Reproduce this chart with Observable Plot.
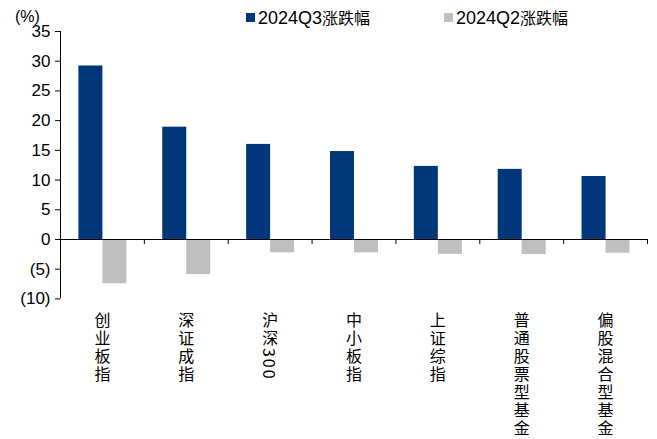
<!DOCTYPE html>
<html>
<head>
<meta charset="utf-8">
<script src="https://cdn.jsdelivr.net/npm/d3@7"></script>
<script src="https://cdn.jsdelivr.net/npm/@observablehq/plot@0.6"></script>
<style>
  body { margin: 0; background: #fff; }
  #wrap { position: relative; width: 657px; height: 439px; font-family: "Liberation Sans", Arial, "Noto Sans CJK SC", sans-serif; }
  .lg { position: absolute; top: 7px; font-size: 18px; color: #000; white-space: nowrap; line-height: 20px; }
  .lg .sw { display: inline-block; width: 9px; height: 9px; margin-right: 3px; vertical-align: 2px; }
  .lg .cj { font-family: "Noto Sans CJK SC", sans-serif; font-size: 16px; }
  #unit { position: absolute; left: 15px; top: 8px; font-size: 16px; }
</style>
</head>
<body>
<div id="wrap"></div>
<script>
const categories = ["创业板指", "深证成指", "沪深300", "中小板指", "上证综指", "普通股票型基金", "偏股混合型基金"];
const q3 = [29.2, 18.9, 16.0, 14.8, 12.3, 11.8, 10.6];
const q2 = [-7.45, -5.9, -2.25, -2.25, -2.5, -2.55, -2.3];
const seriesNames = ["2024Q3涨跌幅", "2024Q2涨跌幅"];
const colors = ["#00377A", "#BFBFBF"];
const yTicks = [-10, -5, 0, 5, 10, 15, 20, 25, 30, 35];

const W = 657, H = 439, mL = 60, mR = 10, mT = 31, mB = 140.6;
const bw = (W - mL - mR) / categories.length;

const rows = categories.map((c, i) => ({cat: c, q3: q3[i], q2: q2[i]}));

const chart = Plot.plot({
  width: W, height: H,
  marginLeft: mL, marginRight: mR, marginTop: mT, marginBottom: mB,
  style: {fontFamily: "'Liberation Sans', Arial, sans-serif", background: "#fff", color: "#000"},
  x: {domain: categories, padding: 0, round: false},
  y: {domain: [-10, 35]},
  marks: [
    Plot.barY(rows, {x: "cat", y: "q3", fill: colors[0], insetLeft: 18.4, insetRight: bw - 18.4 - 24}),
    Plot.barY(rows, {x: "cat", y: "q2", fill: colors[1], insetLeft: 42.4, insetRight: bw - 42.4 - 24}),
    Plot.ruleY([0], {stroke: "#000", strokeWidth: 1.2}),
    Plot.ruleX([categories[0]], {x: d => d, y1: -10, y2: 35, dx: -bw / 2, stroke: "#000"}),
    Plot.ruleX(categories, {x: d => d, y1: 0, y2: -0.85, dx: -bw / 2, stroke: "#000"}),
    Plot.ruleX([categories[categories.length - 1]], {x: d => d, y1: 0, y2: -0.85, dx: bw / 2, stroke: "#000"}),
    Plot.axisY({ticks: yTicks, tickFormat: d => d < 0 ? `(${-d})` : `${d}`, tickSize: 5, tickPadding: 5, fontSize: 17, label: null, stroke: "#000"}),
    Plot.axisX({tickSize: 0, tickPadding: 13, fontSize: 16, label: null, fontFamily: "'Noto Sans CJK SC', sans-serif"})
  ]
});

const wrap = document.getElementById("wrap");
wrap.appendChild(chart);

// vertical tick labels
d3.select(chart).selectAll('g[aria-label="x-axis tick label"] text')
  .attr("y", null).attr("dy", null)
  .attr("text-anchor", "start")
  .style("writing-mode", "vertical-rl")
  .style("letter-spacing", "2px");

// unit label
const unit = document.createElement("div");
unit.id = "unit";
unit.textContent = "(%)";
wrap.appendChild(unit);

// legend
const legendX = [246, 444];
seriesNames.forEach((name, i) => {
  const el = document.createElement("div");
  el.className = "lg";
  el.style.left = legendX[i] + "px";
  const m = name.match(/^([0-9A-Za-z]+)(.*)$/);
  el.innerHTML = `<span class="sw" style="background:${colors[i]}"></span>${m[1]}<span class="cj">${m[2]}</span>`;
  wrap.appendChild(el);
});
</script>
</body>
</html>
